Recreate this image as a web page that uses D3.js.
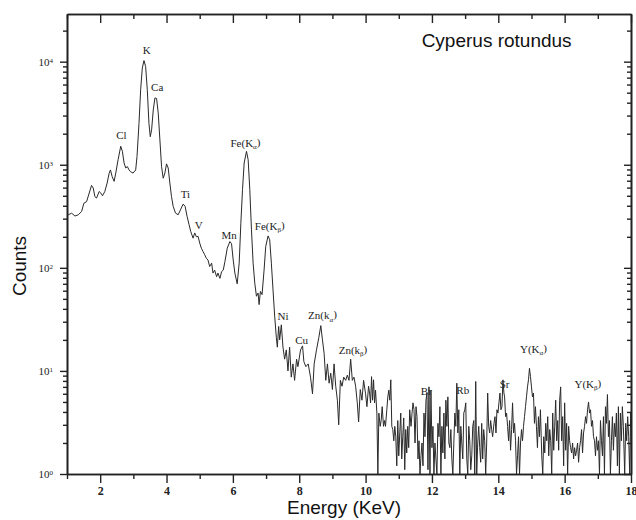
<!DOCTYPE html>
<html>
<head>
<meta charset="utf-8">
<script src="https://cdn.jsdelivr.net/npm/d3@7"></script>
<style>
body { margin: 0; background: #fff; }
</style>
</head>
<body>
<svg id="chart" width="636" height="520"></svg>
<script>
// spectrum (energy in keV, counts), in three stretches
var energyLow = [
  1.00, 1.04, 1.14, 1.24, 1.34, 1.44, 1.51, 1.59, 1.67, 1.74, 1.79, 1.84, 1.89, 1.97, 2.02, 2.07, 2.14, 2.21, 2.27, 2.31,
  2.36, 2.42, 2.47, 2.54, 2.62, 2.67, 2.72, 2.77, 2.82, 2.87, 2.92, 2.99, 3.07, 3.11, 3.17, 3.22, 3.27, 3.32, 3.37, 3.42,
  3.47, 3.51, 3.55, 3.60, 3.65, 3.70, 3.75, 3.80, 3.85, 3.90, 3.95, 4.00, 4.05, 4.10, 4.15, 4.20, 4.27, 4.35, 4.42, 4.50,
  4.56, 4.62, 4.68, 4.73, 4.80, 4.85, 4.90, 4.95, 5.00, 5.05, 5.10, 5.15, 5.20, 5.25, 5.30, 5.36, 5.40, 5.45, 5.51, 5.55,
  5.61, 5.66, 5.71, 5.76, 5.83, 5.91, 5.96, 6.01, 6.06, 6.13, 6.19, 6.24, 6.29, 6.34, 6.41, 6.46, 6.51, 6.56, 6.61, 6.66,
  6.71, 6.76, 6.79, 6.83, 6.88, 6.94, 6.99, 7.06, 7.11, 7.16, 7.21, 7.26, 7.31, 7.34, 7.38, 7.41, 7.46, 7.51, 7.56, 7.61,
  7.66, 7.71, 7.76, 7.81, 7.86, 7.92, 7.96, 8.04, 8.10, 8.14, 8.20, 8.27, 8.34, 8.40, 8.45, 8.52, 8.59, 8.65, 8.70, 8.75,
  8.80, 8.85, 8.90, 8.95, 9.00, 9.05, 9.10, 9.15, 9.19, 9.24, 9.29, 9.34, 9.40, 9.45, 9.50, 9.55, 9.60, 9.65, 9.70, 9.75,
  9.79, 9.84, 9.89, 9.94, 10.00, 10.04, 10.09
];
var countsLow = [
  322, 327, 339, 318, 327, 352, 424, 438, 532, 630, 595, 491, 475, 550, 531, 500, 550, 665, 827, 890,
  770, 690, 830, 1120, 1510, 1350, 1040, 930, 960, 890, 855, 830, 890, 1200, 2520, 5340, 8660, 10250, 8970, 5340,
  2520, 1870, 2180, 3400, 4450, 4400, 3170, 1740, 960, 740, 830, 1020, 930, 665, 491, 395, 340, 327, 365, 415,
  395, 315, 262, 225, 194, 218, 200, 202, 174, 155, 144, 134, 124, 119, 103, 111, 89, 95, 82, 89,
  79, 92, 95, 115, 155, 180, 171, 119, 89, 70, 111, 271, 573, 1040, 1350, 1120, 573, 234, 111, 71,
  53, 57, 44, 59, 55, 95, 161, 204, 187, 111, 61, 34, 21, 17, 27, 20, 28, 17, 13, 16,
  10, 17, 8.7, 11.7, 8.1, 13, 11, 16, 17.5, 12.3, 11, 11.7, 8.7, 6, 11.7, 16, 21, 27.5, 20, 14.8,
  8.1, 11.7, 7.6, 9.5, 6.6, 11.7, 7.1, 5.2, 3.0, 8.1, 7.1, 8.7, 8.1, 9.1, 8.1, 13, 8.1, 8.7, 7.1, 4.9,
  3.2, 6.6, 5.2, 8.1, 6.0, 4.5, 7.1
];

var energyMid = [
  10.12, 10.15, 10.18, 10.21, 10.24, 10.27, 10.30, 10.34, 10.37, 10.40, 10.44, 10.47, 10.50, 10.54, 10.57, 10.60, 10.64, 10.67, 10.70, 10.73,
  10.76, 10.79, 10.82, 10.85, 10.88, 10.91, 10.94, 10.97, 11.00, 11.03, 11.06, 11.09, 11.12, 11.15, 11.18, 11.21, 11.24, 11.27, 11.30, 11.33,
  11.37, 11.40, 11.43, 11.46, 11.49, 11.52, 11.55, 11.58, 11.61, 11.64, 11.67, 11.70, 11.73, 11.76, 11.79, 11.82, 11.85, 11.88, 11.91, 11.94,
  11.97, 12.00, 12.03, 12.06, 12.09, 12.12, 12.15, 12.18, 12.21, 12.24, 12.27, 12.30, 12.33, 12.36, 12.39, 12.42, 12.45, 12.48, 12.51, 12.54,
  12.57, 12.60, 12.63, 12.66, 12.69, 12.72, 12.75, 12.78, 12.81, 12.84, 12.87, 12.90, 12.93, 12.96, 12.99, 13.02, 13.05, 13.08, 13.11, 13.14,
  13.17, 13.20, 13.23, 13.26, 13.29, 13.32, 13.35, 13.38, 13.41, 13.44, 13.47, 13.50, 13.53, 13.56, 13.59, 13.62, 13.65, 13.68, 13.71, 13.74,
  13.77, 13.80, 13.83, 13.87, 13.90, 13.93, 13.96, 13.99, 14.02, 14.05, 14.08, 14.11, 14.14, 14.17
];
var countsMid = [
  6.1, 4.9, 8.8, 5.2, 8.2, 4.9, 6.5, 3.9, 0, 3.9, 2.9, 3.3, 4.5, 2.9, 3.3, 2.9, 4.2, 5.6, 6.5, 5.2,
  8.2, 2.9, 2.7, 2.1, 2.9, 2.3, 1.2, 3.3, 1.5, 2.5, 3.9, 1.4, 2.3, 3.5, 1.1, 2.7, 1.6, 2.9, 1.8, 4.2,
  2.9, 3.9, 4.9, 4.2, 2.0, 4.5, 3.6, 1.4, 2.1, 0, 1.5, 2.0, 1.2, 3.9, 2.3, 5.2, 6.1, 1.1, 7.0, 0,
  6.5, 1.8, 2.9, 0, 2.0, 1.4, 0, 3.1, 2.3, 4.5, 0, 2.9, 1.6, 3.9, 1.4, 5.2, 2.9, 5.6, 2.0, 1.8,
  2.7, 1.4, 0, 2.0, 3.9, 2.9, 7.6, 2.5, 4.2, 0, 2.9, 2.0, 1.4, 3.9, 4.2, 4.9, 1.4, 0, 2.9, 2.1,
  1.1, 1.5, 2.9, 3.3, 0, 7.9, 0, 2.0, 2.9, 1.8, 1.3, 3.1, 1.4, 2.7, 2.1, 0, 2.0, 6.1, 2.9, 2.5,
  3.3, 2.7, 2.3, 3.1, 3.6, 2.5, 4.2, 3.9, 4.9, 6.1, 4.2, 4.5, 8.2, 6.1
];

var energyHigh = [
  14.19, 14.22, 14.25, 14.28, 14.31, 14.34, 14.37, 14.40, 14.43, 14.46, 14.49, 14.52, 14.55, 14.58, 14.61, 14.64, 14.67, 14.70, 14.73, 14.76,
  14.79, 14.82, 14.85, 14.88, 14.91, 14.94, 14.97, 15.00, 15.03, 15.06, 15.09, 15.12, 15.15, 15.18, 15.21, 15.24, 15.27, 15.31, 15.34, 15.37,
  15.40, 15.43, 15.46, 15.49, 15.52, 15.55, 15.58, 15.61, 15.64, 15.67, 15.70, 15.73, 15.76, 15.79, 15.82, 15.85, 15.88, 15.91, 15.94, 15.97,
  16.00, 16.03, 16.06, 16.09, 16.12, 16.15, 16.18, 16.21, 16.24, 16.27, 16.30, 16.33, 16.36, 16.39, 16.42, 16.45, 16.48, 16.51, 16.54, 16.57,
  16.60, 16.63, 16.66, 16.69, 16.72, 16.75, 16.78, 16.81, 16.84, 16.87, 16.90, 16.93, 16.96, 16.99, 17.02, 17.05, 17.08, 17.11, 17.14, 17.17,
  17.20, 17.23, 17.26, 17.29, 17.32, 17.35, 17.38, 17.41, 17.44, 17.47, 17.50, 17.53, 17.56, 17.59, 17.62, 17.65, 17.68, 17.71, 17.74, 17.77,
  17.81, 17.84, 17.87, 17.90, 17.93, 17.96, 17.99, 18.02
];
var countsHigh = [
  5.6, 3.6, 3.9, 2.9, 2.1, 3.3, 1.7, 2.7, 4.9, 2.5, 3.1, 2.1, 0, 1.5, 2.3, 0, 2.0, 2.7, 2.1, 2.9,
  3.6, 4.5, 5.6, 7.0, 8.2, 10.6, 8.8, 7.0, 5.6, 6.1, 3.1, 4.5, 2.9, 1.8, 3.6, 2.3, 4.2, 1.5, 0, 2.3,
  1.6, 3.1, 2.1, 3.6, 1.5, 2.7, 2.1, 0, 3.9, 1.7, 2.9, 5.2, 2.1, 3.3, 1.7, 5.2, 7.0, 2.1, 3.6, 1.2,
  4.9, 1.7, 3.1, 0, 2.9, 2.1, 1.8, 1.6, 2.0, 1.4, 1.8, 1.5, 1.7, 2.0, 1.3, 1.8, 2.1, 2.7, 1.6, 2.5,
  2.9, 3.6, 3.1, 4.2, 5.0, 3.9, 4.2, 2.9, 3.3, 2.3, 2.1, 1.5, 2.3, 1.7, 2.1, 0, 3.3, 2.1, 1.5, 3.6,
  0, 4.5, 3.1, 5.9, 2.3, 3.3, 0, 2.1, 3.6, 1.7, 3.1, 2.3, 3.9, 1.2, 4.5, 0, 3.9, 2.1, 4.5, 2.9,
  0, 3.1, 2.1, 3.6, 2.3, 0, 3.9, 2.9
];

// peak labels: text, subscript, energy and counts where the label sits
var peakNames = ["Cl", "K", "Ca", "Ti", "V", "Mn", "Fe(K", "Fe(K", "Ni", "Cu", "Zn(k", "Zn(k", "Br", "Rb", "Sr", "Y(K", "Y(K"];
var peakSubs  = ["", "", "", "", "", "", "\u03b1", "\u03b2", "", "", "\u03b1", "\u03b2", "", "", "", "\u03b1", "\u03b2"];
var peakE     = [2.64, 3.40, 3.72, 4.57, 4.97, 5.89, 6.38, 7.11, 7.51, 8.07, 8.70, 9.62, 11.83, 12.93, 14.19, 15.06, 16.70];
var peakC     = [1780, 11750, 5250, 479, 240, 190, 1480, 234, 31, 18.2, 31.6, 14.5, 5.9, 6.0, 6.9, 14.8, 6.8];

var xMajor = [2, 4, 6, 8, 10, 12, 14, 16, 18];
var xMinor = [1, 3, 5, 7, 9, 11, 13, 15, 17];
var yExp = [0, 1, 2, 3, 4];

var sampleName = "Cyperus rotundus";
var xTitle = "Energy (KeV)";
var yTitle = "Counts";

var energy = energyLow.concat(energyMid, energyHigh);
var counts = countsLow.concat(countsMid, countsHigh);

// plot box (window.top is taken, so prefix these)
var plotL = 67, plotR = 631, plotT = 14, plotB = 474;

var svg = d3.select("#chart");

var x = d3.scaleLinear().domain([1, 18]).range([plotL, plotR]);
var y = d3.scaleLog().domain([1, 29000]).range([plotB, plotT]).clamp(true);

var yMajor = yExp.map(function(e) { return Math.pow(10, e); });
var yMinor = [];
yExp.forEach(function(e) {
    for (var k = 2; k <= 9; k++) {
        var v = k * Math.pow(10, e);
        if (v < 29000) yMinor.push(v);
    }
});

// clip for the trace
svg.append("clipPath").attr("id", "plotclip")
  .append("rect")
    .attr("x", plotL).attr("y", plotT)
    .attr("width", plotR - plotL).attr("height", plotB - plotT);

// spectrum (zero counts drop to the bottom of the log axis)
var line = d3.line()
    .x(function(i) { return x(energy[i]); })
    .y(function(i) { return y(Math.max(counts[i], 0.5)); });

svg.append("path")
    .attr("clip-path", "url(#plotclip)")
    .attr("d", line(d3.range(energy.length)))
    .attr("fill", "none")
    .attr("stroke", "#2a2a2a")
    .attr("stroke-width", 1)
    .attr("stroke-linejoin", "round");

// axes
function styleAxis(g) {
    g.select(".domain").attr("stroke", "#222").attr("stroke-width", 1.6);
    g.selectAll(".tick line").attr("stroke", "#222").attr("stroke-width", 1.4);
}

// bottom
svg.append("g").attr("transform", "translate(0," + plotB + ")")
    .call(d3.axisBottom(x).tickValues(xMinor).tickSize(5).tickSizeOuter(0).tickFormat(""))
    .call(styleAxis);
var bx = svg.append("g").attr("transform", "translate(0," + plotB + ")")
    .call(d3.axisBottom(x).tickValues(xMajor).tickSize(9).tickSizeOuter(0).tickFormat(d3.format("d")).tickPadding(3))
    .call(styleAxis);
bx.selectAll("text")
    .attr("font-family", "'Liberation Serif', 'DejaVu Serif', serif")
    .attr("font-size", 12).attr("font-weight", "bold").attr("fill", "#222");

// top (ticks point inward)
svg.append("g").attr("transform", "translate(0," + plotT + ")")
    .call(d3.axisTop(x).tickValues(xMinor).tickSize(-5).tickSizeOuter(0).tickFormat(""))
    .call(styleAxis);
svg.append("g").attr("transform", "translate(0," + plotT + ")")
    .call(d3.axisTop(x).tickValues(xMajor).tickSize(-9).tickSizeOuter(0).tickFormat(""))
    .call(styleAxis);

// left
svg.append("g").attr("transform", "translate(" + plotL + ",0)")
    .call(d3.axisLeft(y).tickValues(yMinor).tickSize(4).tickSizeOuter(0).tickFormat(""))
    .call(styleAxis);
var ly = svg.append("g").attr("transform", "translate(" + plotL + ",0)")
    .call(d3.axisLeft(y).tickValues(yMajor).tickSize(7).tickSizeOuter(0).tickFormat(""))
    .call(styleAxis);
ly.selectAll(".tick").append("text")
    .attr("x", -14).attr("dy", "0.35em")
    .attr("text-anchor", "end")
    .attr("font-family", "'Liberation Serif', 'DejaVu Serif', serif")
    .attr("font-size", 11).attr("fill", "#222")
    .each(function(d) {
        var t = d3.select(this);
        t.append("tspan").text("10");
        t.append("tspan").attr("dy", "-0.45em").attr("font-size", 7).text(Math.round(Math.log10(d)));
    });

// right (ticks point inward)
svg.append("g").attr("transform", "translate(" + plotR + ",0)")
    .call(d3.axisRight(y).tickValues(yMinor).tickSize(-4).tickSizeOuter(0).tickFormat(""))
    .call(styleAxis);
svg.append("g").attr("transform", "translate(" + plotR + ",0)")
    .call(d3.axisRight(y).tickValues(yMajor).tickSize(-7).tickSizeOuter(0).tickFormat(""))
    .call(styleAxis);

// peak labels
var labels = svg.append("g")
    .attr("font-family", "'Liberation Serif', 'DejaVu Serif', serif")
    .attr("font-size", 11).attr("fill", "#222")
    .attr("text-anchor", "middle");
peakNames.forEach(function(name, i) {
    var t = labels.append("text")
        .attr("x", x(peakE[i]))
        .attr("y", y(peakC[i]));
    t.append("tspan").text(name);
    if (peakSubs[i]) {
        t.append("tspan").attr("font-size", 7).attr("dy", "0.3em").text(peakSubs[i]);
        t.append("tspan").attr("dy", "-0.3em").text(")");
    }
});

// sample name
svg.append("text")
    .attr("x", x(13.95)).attr("y", 47)
    .attr("text-anchor", "middle")
    .attr("font-family", "'Liberation Sans', Arial, sans-serif")
    .attr("font-size", 19).attr("fill", "#111")
    .text(sampleName);

// axis titles
svg.append("text")
    .attr("x", 344).attr("y", 514)
    .attr("text-anchor", "middle")
    .attr("font-family", "'Liberation Sans', Arial, sans-serif")
    .attr("font-size", 19).attr("fill", "#111")
    .text(xTitle);

svg.append("text")
    .attr("transform", "translate(26,266) rotate(-90)")
    .attr("text-anchor", "middle")
    .attr("font-family", "'Liberation Sans', Arial, sans-serif")
    .attr("font-size", 19).attr("fill", "#111")
    .text(yTitle);
</script>
</body>
</html>
